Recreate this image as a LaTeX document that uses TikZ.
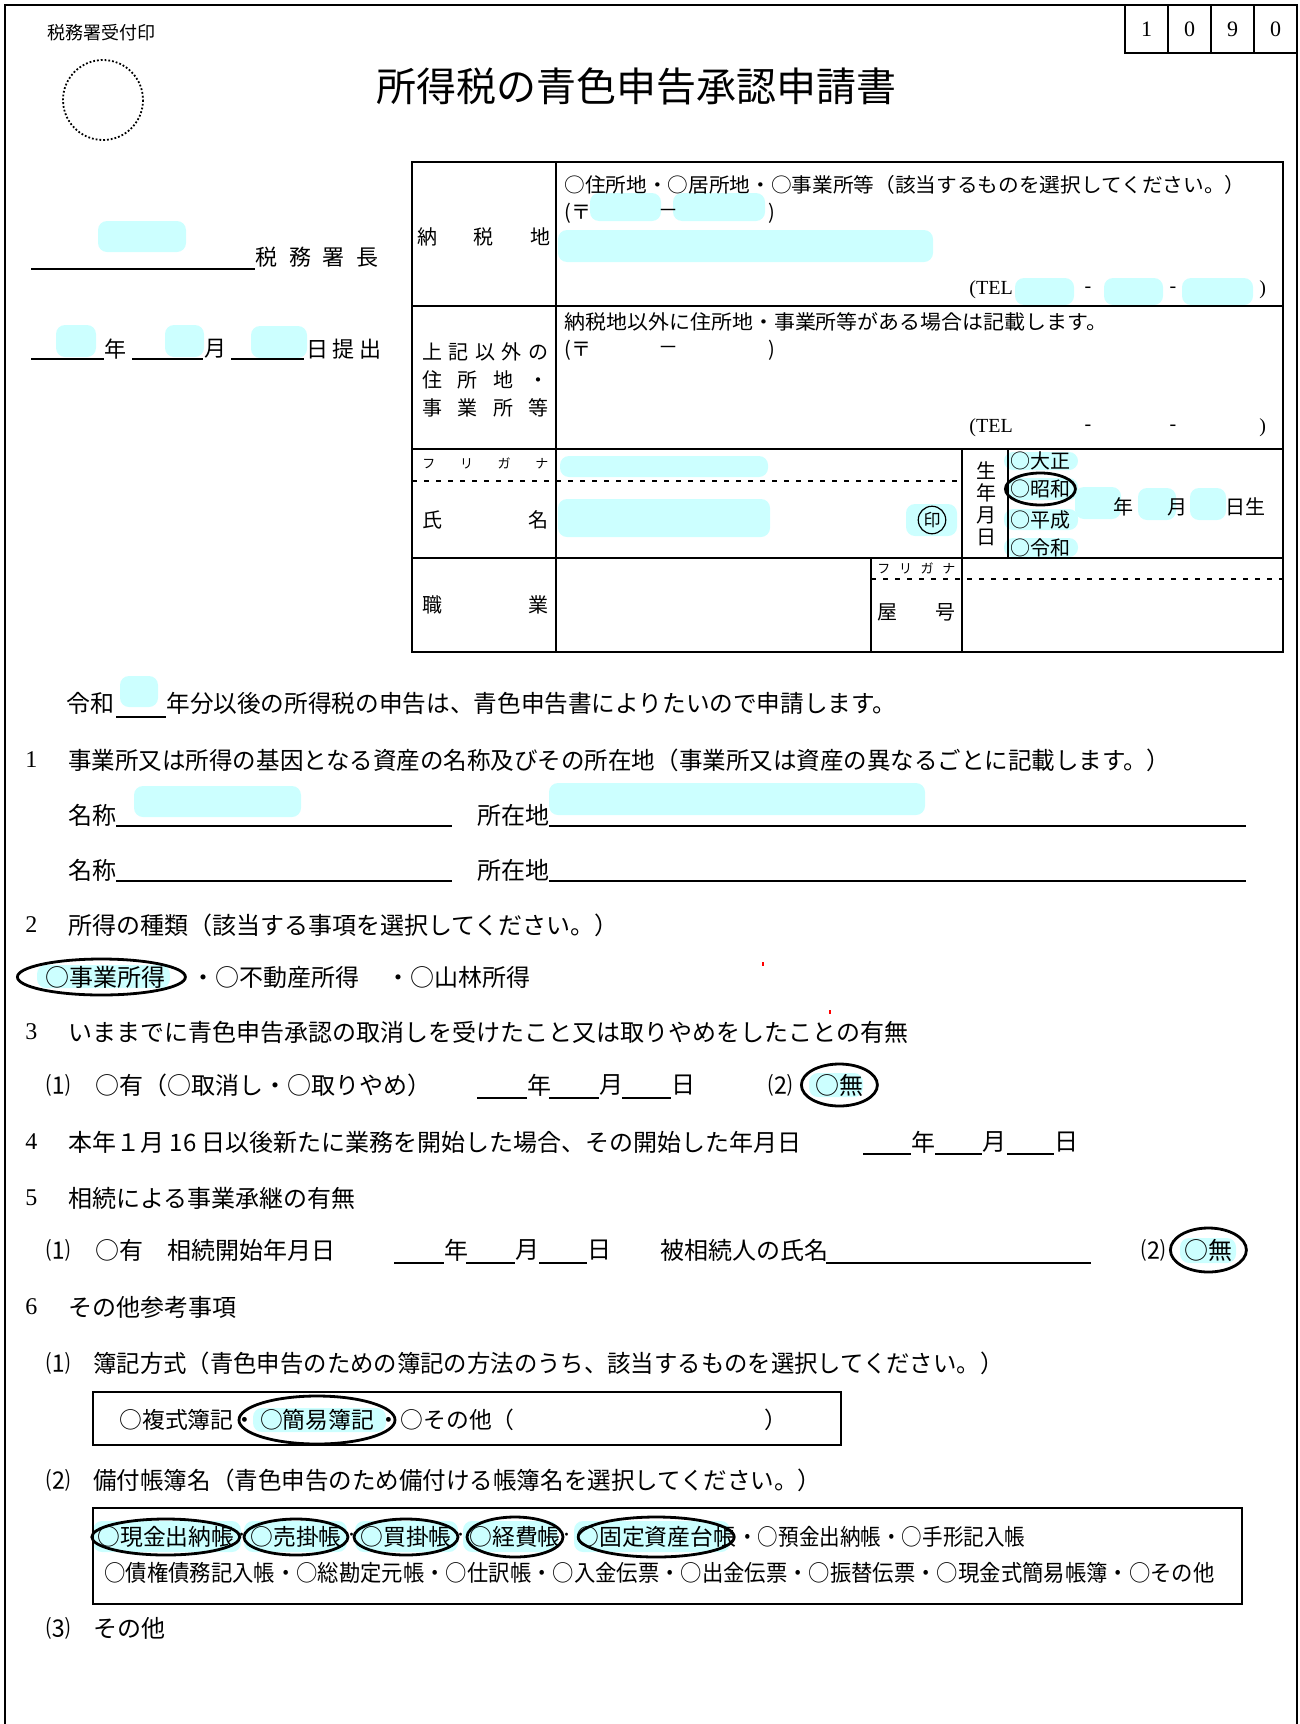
\documentclass[tikz,border=0pt]{standalone}
\usepackage{fontspec}
\usepackage{graphicx}
\setmainfont{Noto Sans CJK JP}
\newfontfamily\serif{Liberation Serif}
\usetikzlibrary{positioning}

\definecolor{blobcyan}{RGB}{204,255,255}
\newcommand\spreadchars[2]{\makebox[#1][s]{#2}}
\newcommand\fitwidth[2]{\resizebox{#1}{\height}{#2}}

\begin{document}
\begin{tikzpicture}[x=0.5pt,y=-0.5pt]
\tikzstyle{txt} = [inner sep=0pt, anchor=west, font=\fontsize{12pt}{14pt}\selectfont]
\tikzstyle{num} = [inner sep=0pt, anchor=west, font=\serif\fontsize{12pt}{14pt}\selectfont]
\tikzstyle{cell} = [inner sep=0pt, anchor=west, font=\fontsize{10pt}{11pt}\selectfont]
\tikzstyle{boxtxt} = [inner sep=0pt, anchor=west, font=\fontsize{11.4pt}{13pt}\selectfont]
\tikzstyle{kana} = [inner sep=0pt, anchor=west, font=\fontsize{6.5pt}{7pt}\selectfont]
\tikzstyle{tel} = [inner sep=0pt, anchor=west, font=\serif\fontsize{10pt}{11pt}\selectfont]
\tikzstyle{blob} = [fill=blobcyan, rounded corners=4.5pt]
\tikzstyle{uline} = [line width=1pt]
\tikzstyle{frameline} = [line width=1.2pt]
\tikzstyle{dotline} = [line width=1pt, dash pattern=on 2.3pt off 3.7pt]
\tikzstyle{ring} = [line width=1.4pt]

\useasboundingbox (0,0) rectangle (1300,1724);

\foreach \a/\b/\c/\d in {98/221/186/252, 56/325/96/357, 165/325/204/357, 251/326/307/358,
    590/193/661/221, 673/193/765/221, 558/230/933/262, 1015/278/1074/305, 1104/278/1163/305, 1182/278/1253/305,
    560/456/768/477, 558/499/770/537, 906/504/957/536,
    1004/452/1078/470, 1008/478/1078/500, 1004/509/1078/530, 1004/538/1078/557,
    1075/487/1121/519, 1138/488/1176/520, 1190/488/1226/520,
    120/676/158/707, 134/786/301/817, 549/783/925/815,
    37/965/170/988, 809/1073/863/1097, 1180/1238/1236/1263, 253/1408/386/1432,
    93/1521/241/1552, 244/1521/347/1552, 355/1521/458/1552, 463/1521/558/1552, 574/1521/730/1552}
  \fill[blob] (\a,\b) rectangle (\c,\d);

\draw[frameline] (5,1724) |- (1297,5) -- (1297,1724);
\draw[frameline] (1125,5) rectangle (1297,53);
\foreach \x in {1168,1211,1254} \draw[frameline] (\x,5) -- (\x,53);
\foreach \d [count=\i] in {1,0,9,0}
  \node[num, anchor=center, font=\serif\fontsize{11pt}{12pt}\selectfont] (digit\i) at (1103.5+43*\i,29) {\d};

\node[inner sep=0pt, anchor=west, font=\fontsize{9pt}{10pt}\selectfont] (uketsuke) at (47,33) {税務署受付印};
\draw[line width=0.9pt, densely dotted] (103,100) circle [radius=40];
\node[font=\fontsize{20pt}{24pt}\selectfont] (title) at (636,86) {所得税の青色申告承認申請書};

\draw[uline] (31,269) -- (255,269);
\node[txt, font=\fontsize{11pt}{12pt}\selectfont] (shocho) at (255,257) {\spreadchars{61.5pt}{税\hfill 務\hfill 署\hfill 長}};
\foreach \a/\b in {31/104, 132/203, 231/304} \draw[uline] (\a,359) -- (\b,359);
\node[txt, font=\fontsize{11pt}{12pt}\selectfont] (tnen) at (104,349) {年};
\node[txt, font=\fontsize{11pt}{12pt}\selectfont] (ttsuki) at (204,349) {月};
\node[txt, font=\fontsize{11pt}{12pt}\selectfont] (teishutsu) at (306,349) {\spreadchars{37.5pt}{日\hfill 提\hfill 出}};

\draw[frameline] (412,162) rectangle (1283,652);
\foreach \y in {306,449,558} \draw[frameline] (412,\y) -- (1283,\y);
\draw[frameline] (556,162) -- (556,652);
\draw[frameline] (962,449) -- (962,652);
\draw[frameline] (871,558) -- (871,652);
\draw[line width=0.6pt] (1008,449) -- (1008,558);
\draw[dotline] (412,481) -- (962,481);
\draw[dotline] (871,579) -- (1283,579);

\node[cell] (nozeichi) at (417,237) {\spreadchars{66.5pt}{納\hfill 税\hfill 地}};
\node[cell] (igai1) at (422,352) {\spreadchars{63pt}{上\hfill 記\hfill 以\hfill 外\hfill の}};
\node[cell] (igai2) at (422,380) {\spreadchars{63pt}{住\hfill 所\hfill 地\hfill ・}};
\node[cell] (igai3) at (422,408) {\spreadchars{63pt}{事\hfill 業\hfill 所\hfill 等}};
\node[kana] (furigana) at (422,463) {\spreadchars{63pt}{フ\hfill リ\hfill ガ\hfill ナ}};
\node[cell] (shimei) at (422,520) {\spreadchars{63pt}{氏\hfill 名}};
\node[cell] (shokugyo) at (422,605) {\spreadchars{63pt}{職\hfill 業}};
\node[kana] (yagokana) at (877,568) {\spreadchars{39pt}{フ\hfill リ\hfill ガ\hfill ナ}};
\node[cell] (yago) at (877,612) {\spreadchars{39pt}{屋\hfill 号}};

\node[cell] (kubun) at (564,185) {\fitwidth{340.5pt}{○住所地・○居所地・○事業所等（該当するものを選択してください。）}};
\node[cell] (zip1) at (564,213) {(〒};
\node[cell, anchor=center] (zipdash1) at (668,213) {－};
\node[cell] (zipend1) at (768,213) {)};
\node[tel] (tel1) at (969,290) {(TEL};
\node[tel, anchor=center] (teldash1a) at (1088,290) {-};
\node[tel, anchor=center] (teldash1b) at (1173,290) {-};
\node[tel] (telend1) at (1259,290) {)};

\node[cell] (igaitext) at (564,322) {\fitwidth{271.5pt}{納税地以外に住所地・事業所等がある場合は記載します。}};
\node[cell] (zip2) at (564,350) {(〒};
\node[cell, anchor=center] (zipdash2) at (668,350) {－};
\node[cell] (zipend2) at (768,350) {)};
\node[tel] (tel2) at (969,428) {(TEL};
\node[tel, anchor=center] (teldash2a) at (1088,428) {-};
\node[tel, anchor=center] (teldash2b) at (1173,428) {-};
\node[tel] (telend2) at (1259,428) {)};

\node[draw, circle, line width=0.6pt, inner sep=0.8pt, font=\fontsize{8.5pt}{9pt}\selectfont] (inkan) at (932,520) {印};
\node[cell, anchor=center, align=center, font=\fontsize{10pt}{11pt}\selectfont] (seinengappi) at (986,504) {生\\年\\月\\日};
\node[cell] (taisho) at (1010,461) {○大正};
\node[cell] (showa) at (1010,489) {○昭和};
\node[cell] (heisei) at (1010,520) {○平成};
\node[cell] (reiwa) at (1010,548) {○令和};
\node[cell] (bnen) at (1113,507) {年};
\node[cell] (btsuki) at (1167,507) {月};
\node[cell] (bhi) at (1225,507) {日生};
\draw[ring] (showa.center) ellipse [x radius=35, y radius=16];

\node[txt] (reiwa0) at (66,703) {令和};
\draw[uline] (116,717) -- (166,717);
\node[txt] (shinsei) at (166,703) {\fitwidth{365pt}{年分以後の所得税の申告は、青色申告書によりたいので申請します。}};

\node[num] (i1) at (25,760) {1};
\node[txt] (i1text) at (68,760) {\fitwidth{551pt}{事業所又は所得の基因となる資産の名称及びその所在地（事業所又は資産の異なるごとに記載します。）}};
\foreach \y/\n in {815/1, 870/2} {
  \node[txt] (meisho\n) at (68,\y) {名称};
  \node[txt] (shozai\n) at (477,\y) {所在地};
  \draw[uline] (116,\y+11) -- (452,\y+11);
  \draw[uline] (549,\y+11) -- (1246,\y+11);
}

\node[num] (i2) at (25,925) {2};
\node[txt] (i2text) at (68,925) {所得の種類（該当する事項を選択してください。）};
\node[txt] (jigyo) at (45,977) {○事業所得};
\node[txt] (fudosan) at (191,977) {・○不動産所得};
\node[txt] (sanrin) at (386,977) {・○山林所得};
\draw[ring] ([xshift=-2pt]jigyo.center) ellipse [x radius=84, y radius=18];
\draw[red, line width=0.6pt] (763,962) -- (763,966) (830,1010) -- (830,1014);

\node[num] (i3) at (25,1032) {3};
\node[txt] (i3text) at (68,1032) {いままでに青色申告承認の取消しを受けたこと又は取りやめをしたことの有無};
\node[txt] (p31) at (46,1085) {⑴};
\node[txt] (ari3) at (95,1085) {○有（○取消し・○取りやめ）};
\foreach \a/\b/\t/\n in {477/527/年/y, 549/599/月/m, 622/671/日/d} {
  \draw[uline] (\a,1098) -- (\b,1098);
  \node[txt] (\n3) at (\b,1085) {\t};
}
\node[txt] (p32) at (768,1085) {⑵};
\node[txt] (nashi3) at (815,1085) {○無};
\draw[ring] (nashi3.center) ellipse [x radius=38, y radius=21];

\node[num] (i4) at (25,1142) {4};
\node[txt] (i4text) at (68,1142) {本年１月 16 日以後新たに業務を開始した場合、その開始した年月日};
\foreach \a/\b/\t/\n in {863/911/年/y, 935/982/月/m, 1007/1054/日/d} {
  \draw[uline] (\a,1154) -- (\b,1154);
  \node[txt] (\n4) at (\b,1142) {\t};
}

\node[num] (i5) at (25,1198) {5};
\node[txt] (i5text) at (68,1198) {相続による事業承継の有無};
\node[txt] (p51) at (46,1250) {⑴};
\node[txt] (ari5) at (95,1250) {○有　相続開始年月日};
\foreach \a/\b/\t/\n in {394/444/年/y, 466/515/月/m, 539/587/日/d} {
  \draw[uline] (\a,1263) -- (\b,1263);
  \node[txt] (\n5) at (\b,1250) {\t};
}
\node[txt] (hisozoku) at (660,1250) {被相続人の氏名};
\draw[uline] (826,1263) -- (1091,1263);
\node[txt] (p52) at (1141,1250) {⑵};
\node[txt] (nashi5) at (1184,1250) {○無};
\draw[ring] (nashi5.center) ellipse [x radius=38, y radius=22];

\node[num] (i6) at (25,1307) {6};
\node[txt] (i6text) at (68,1307) {その他参考事項};
\node[txt] (p61) at (46,1363) {⑴};
\node[txt] (bokihoshiki) at (93,1363) {\fitwidth{455pt}{簿記方式（青色申告のための簿記の方法のうち、該当するものを選択してください。）}};
\draw[line width=0.8pt] (93,1392) rectangle (841,1445);
\node[boxtxt] (fukushiki) at (119,1420) {○複式簿記・};
\node[boxtxt, right=1.5pt of fukushiki] (kani) {○簡易簿記};
\node[boxtxt, right=1.5pt of kani] (sonota) {・○その他（};
\node[boxtxt] (sonotaend) at (764,1420) {）};
\draw[ring] (kani.center) ellipse [x radius=78, y radius=24];

\node[txt] (p62) at (46,1480) {⑵};
\node[txt] (bitsuke) at (93,1480) {\fitwidth{364pt}{備付帳簿名（青色申告のため備付ける帳簿名を選択してください。）}};
\draw[line width=0.8pt] (93,1508) rectangle (1242,1604);
\node[boxtxt] (genkin) at (97,1537) {○現金出納帳};
\node[boxtxt] (urikake) at (250,1537) {○売掛帳};
\node[boxtxt] (kaikake) at (360,1537) {○買掛帳};
\node[boxtxt] (keihi) at (469,1537) {○経費帳};
\node[boxtxt] (kotei) at (576,1537) {○固定資産台帳};
\node[boxtxt] (yokin) at (737,1537) {\fitwidth{144pt}{・○預金出納帳・○手形記入帳}};
\foreach \x in {242,352,461,567} \node[boxtxt, anchor=center, font=\fontsize{9pt}{10pt}\selectfont] at (\x,1537) {･};
\draw[ring] (genkin.center) ellipse [x radius=74, y radius=18];
\draw[ring] (urikake.center) ellipse [x radius=52, y radius=18];
\draw[ring] (kaikake.center) ellipse [x radius=52, y radius=18];
\draw[ring] (keihi.center) ellipse [x radius=48, y radius=20];
\draw[ring] (kotei.center) ellipse [x radius=78, y radius=20];
\node[boxtxt] (saiken) at (104,1573) {\fitwidth{555pt}{○債権債務記入帳・○総勘定元帳・○仕訳帳・○入金伝票・○出金伝票・○振替伝票・○現金式簡易帳簿・○その他}};

\node[txt] (p63) at (46,1628) {⑶};
\node[txt] (sonota3) at (93,1628) {その他};
\end{tikzpicture}
\end{document}
